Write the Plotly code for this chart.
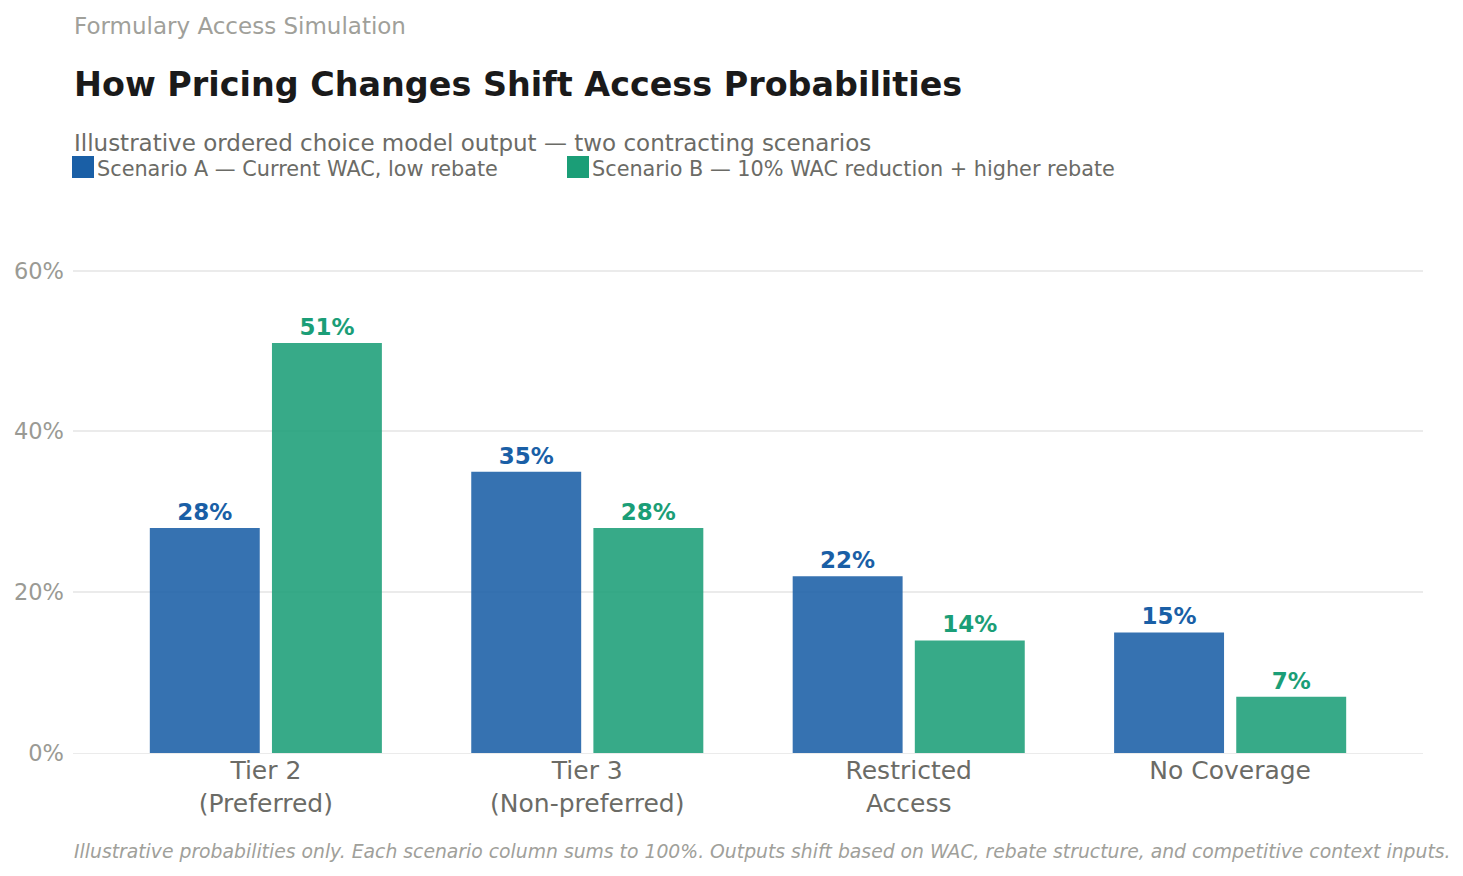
import plotly.graph_objects as go

categories = ["Tier 2<br>(Preferred)", "Tier 3<br>(Non-preferred)", "Restricted<br>Access", "No Coverage"]
scenario_a = [0.28, 0.35, 0.22, 0.15]
scenario_b = [0.51, 0.28, 0.14, 0.07]
name_a = "Scenario A — Current WAC, low rebate"
name_b = "Scenario B — 10% WAC reduction + higher rebate"
y_ticks = [0, 0.2, 0.4, 0.6]

blue = "#1a5fa6"
green = "#1b9e77"
font = "DejaVu Sans"

W, H = 1463, 876
OFF = 8  # page offset of the figure
plot_left, plot_right, plot_top, plot_bottom = 73, 1423, 220, 753  # page coords
ml = plot_left - OFF
mr = W - (plot_right - OFF)
mt = plot_top - OFF
mb = H - (plot_bottom - OFF)
ph = plot_bottom - plot_top
pw = plot_right - plot_left

def py(px):
    return (plot_bottom - px) / ph

def pxr(px):
    return (px - plot_left) / pw

fig = go.Figure()
for vals, color, name in [(scenario_a, blue, name_a), (scenario_b, green, name_b)]:
    fig.add_trace(go.Bar(
        x=categories, y=vals, name=name,
        marker=dict(color=color, opacity=0.88, line=dict(width=0)),
        text=[f"{v:.0%}" for v in vals], textposition="outside",
        textfont=dict(family=font, size=23, color=color, weight="bold"),
        cliponaxis=False, showlegend=False,
    ))

fig.update_layout(
    width=W, height=H,
    margin=dict(l=ml, r=mr, t=mt, b=mb),
    paper_bgcolor="white", plot_bgcolor="white",
    barmode="group", bargap=0.24, bargroupgap=0.1,
    font=dict(family=font),
)
fig.update_xaxes(range=[-0.6, 3.6], showgrid=False, showline=False, ticks="", automargin=False,
                 tickfont=dict(family=font, size=25, color="#6b6b66"))
fig.update_yaxes(range=[0, 0.663], tickvals=y_ticks, tickformat=".0%", automargin=False,
                 showgrid=True, gridcolor="#ebebeb", gridwidth=2,
                 zeroline=True, zerolinecolor="#ebebeb", zerolinewidth=1,
                 ticks="", ticklabelstandoff=8,
                 tickfont=dict(family=font, size=22.5, color="#9a9a94"))

anns = [
    dict(text="Formulary Access Simulation", x=0, y=py(26), size=23, color="#a0a09a"),
    dict(text="<b>How Pricing Changes Shift Access Probabilities</b>", x=0, y=py(85), size=33.4, color="#1a1a1a"),
    dict(text="Illustrative ordered choice model output — two contracting scenarios", x=0, y=py(143), size=23, color="#6b6b66"),
    dict(text=name_a, x=pxr(96), y=py(169), size=20.8, color="#6b6b66"),
    dict(text=name_b, x=pxr(591), y=py(169), size=20.8, color="#6b6b66"),
    dict(text="<i>Illustrative probabilities only. Each scenario column sums to 100%. Outputs shift based on WAC, rebate structure, and competitive context inputs.</i>",
         x=0, y=py(851), size=18.8, color="#a0a09a"),
]
for a in anns:
    fig.add_annotation(text=a["text"], xref="paper", yref="paper", x=a["x"], y=a["y"],
                       xanchor="left", yanchor="middle", showarrow=False, borderpad=0,
                       font=dict(family=font, size=a["size"], color=a["color"]))

for x0, color in [(72, blue), (567, green)]:
    fig.add_shape(type="rect", xref="paper", yref="paper",
                  x0=pxr(x0), x1=pxr(x0 + 22),
                  y0=py(178), y1=py(156), fillcolor=color, line=dict(width=0))

fig.write_html("out.html")
